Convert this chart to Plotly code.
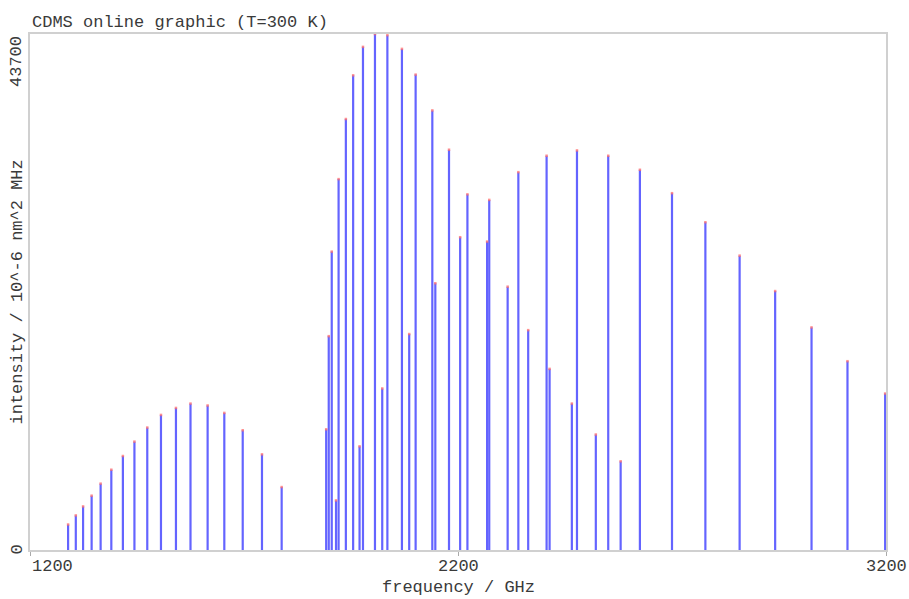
import plotly.graph_objects as go

# ---- data ----
freq_ghz = [
    1289, 1307, 1324, 1344, 1365, 1390, 1417, 1444, 1474, 1506, 1541, 1575, 1615, 1654, 1697, 1742, 1788,
    1892, 1898, 1905, 1915, 1921, 1938, 1955, 1970, 1978, 2006, 2023, 2035, 2069, 2086, 2101,
    2140, 2147, 2179, 2205, 2222, 2268, 2273, 2316, 2341, 2364, 2407, 2414, 2466, 2478,
    2522, 2551, 2580, 2625, 2700, 2778, 2858, 2941, 3026, 3110, 3198,
]
intensity = [
    2160, 2930, 3690, 4600, 5620, 6800, 7960, 9180, 10370, 11440, 12030, 12400, 12240, 11610, 10140, 8100, 5330,
    10220, 18110, 25270, 4200, 31410, 36500, 40200, 8780, 42610, 43700, 13680, 43600, 42440, 18290, 40260,
    37230, 22590, 33900, 26490, 30120, 26120, 29650, 22300, 32000, 18620, 33390, 15340, 12400, 33840,
    9780, 33390, 7510, 32200, 30220, 27760, 24930, 21930, 18850, 15990, 13250,
]

x_range = [1200, 3200]
y_range = [0, 43700]
x_tick_vals = [1200, 2200, 3200]
x_tick_text = ["1200", "2200", "3200"]
y_tick_vals = [0, 43700]
y_tick_text = ["0", "43700"]

title_text = "CDMS online graphic (T=300 K)"
x_title = "frequency / GHz"
y_title = "intensity / 10^-6 nm^2 MHz"

FONT = "Liberation Mono"
TXT = "#3a3a3a"
FS = 17

# build stick spectrum
xs, ys = [], []
for f, v in zip(freq_ghz, intensity):
    xs += [f, f, None]
    ys += [0, v, None]

fig = go.Figure()
fig.add_trace(go.Scatter(
    x=xs, y=ys, mode="lines",
    line=dict(color="rgb(100,100,255)", width=2.2),
    hoverinfo="skip", showlegend=False,
))
fig.add_trace(go.Scatter(
    x=freq_ghz, y=intensity, mode="markers",
    marker=dict(color="rgba(255,110,110,0.75)", size=2.5, symbol="square", line=dict(width=0)),
    hoverinfo="skip", showlegend=False,
))

annotations = []
# x tick labels
for v, t in zip(x_tick_vals, x_tick_text):
    anchor = "left" if v == x_range[0] else "center"
    annotations.append(dict(
        x=v, y=0, xref="x", yref="paper", text=t, showarrow=False,
        xanchor=anchor, yanchor="top", yshift=-5,
        font=dict(family=FONT, size=FS, color=TXT),
    ))
# y tick labels
for v, t in zip(y_tick_vals, y_tick_text):
    annotations.append(dict(
        x=0, y=v, xref="paper", yref="y", text=t, showarrow=False,
        textangle=-90, xanchor="right", xshift=-2,
        yanchor="top" if v == y_range[1] else "middle",
        font=dict(family=FONT, size=FS, color=TXT),
    ))
# titles
annotations.append(dict(
    x=0, y=1, xref="paper", yref="paper", text=title_text, showarrow=False,
    xanchor="left", yanchor="bottom", yshift=0,
    font=dict(family=FONT, size=FS, color=TXT),
))
annotations.append(dict(
    x=0.5, y=0, xref="paper", yref="paper", text=x_title, showarrow=False,
    xanchor="center", yanchor="top", yshift=-26,
    font=dict(family=FONT, size=FS, color=TXT),
))
annotations.append(dict(
    x=0, y=0.5, xref="paper", yref="paper", text=y_title, showarrow=False,
    textangle=-90, xanchor="right", yanchor="middle", xshift=-2,
    font=dict(family=FONT, size=FS, color=TXT),
))

fig.update_layout(
    width=909, height=599,
    margin=dict(l=30, r=23, t=34, b=49),
    paper_bgcolor="white", plot_bgcolor="white",
    annotations=annotations,
    xaxis=dict(
        range=x_range, showgrid=False, zeroline=False,
        tickvals=x_tick_vals, showticklabels=False,
        ticks="outside", ticklen=4, tickcolor="#aaaaaa",
        showline=True, linecolor="#d0d0d0", linewidth=2, mirror=True,
    ),
    yaxis=dict(
        range=y_range, showgrid=False, zeroline=False,
        tickvals=y_tick_vals, showticklabels=False, ticks="",
        showline=True, linecolor="#d0d0d0", linewidth=2, mirror=True,
    ),
)

fig.write_html(
    "out.html",
    config={"displayModeBar": False},
    post_script="document.body.style.margin='0';document.body.style.padding='0';",
)
